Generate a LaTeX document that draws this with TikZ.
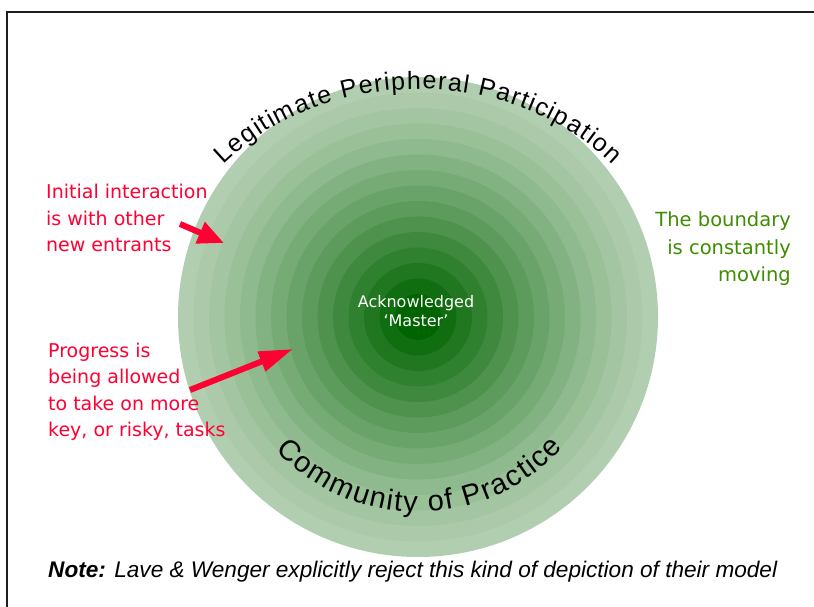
\documentclass[tikz,border=0pt]{standalone}
\usepackage{fontspec}
\setmainfont{Liberation Sans}
\newfontfamily\labelfont{DejaVu Sans}
\usetikzlibrary{arrows.meta,decorations.text}

\definecolor{rimgreen}{RGB}{178,206,176}
\definecolor{coregreen}{RGB}{0,100,0}
\definecolor{notered}{RGB}{255,0,51}
\definecolor{noteolive}{RGB}{62,140,0}
\definecolor{framegray}{RGB}{30,30,30}

\begin{document}
\begin{tikzpicture}[x=1pt,y=1pt,
    redtext/.style={font=\labelfont\fontsize{19}{26.5}\selectfont, text=notered, align=left, inner sep=0pt, anchor=base west},
    olivetext/.style={font=\labelfont\fontsize{19.5}{27.5}\selectfont, text=noteolive, align=right, inner sep=0pt, anchor=base east},
    mastertext/.style={font=\labelfont\fontsize{16}{19}\selectfont, text=white, align=center, inner sep=0pt, anchor=base},
    redarrow/.style={notered, line width=6pt}]
    \useasboundingbox (0,0) rectangle (814,607);
    \clip (0,0) rectangle (814,607);

    % frame
    \draw[line width=2pt, framegray] (7,-10) -- (7,595) -- (830,595);

    % rings
    \coordinate (hub) at (418,290);
    \foreach \i in {0,...,14}{
        \pgfmathsetmacro\ringpct{100*(\i/14)^1.3}
        \fill[coregreen!\ringpct!rimgreen] (hub) circle[radius=240-15.5*\i];
    }

    \node[mastertext] (master) at (416,280) {Acknowledged\\‘Master’};

    % text round the circle
    \path[decorate, decoration={text along path, text align=fit to path, text format delimiters={|}{|},
        text={|\fontsize{25}{25}\selectfont|Legitimate Peripheral Participation}}]
        (hub) ++(138:262 and 228) arc[start angle=138, end angle=42, x radius=262, y radius=228];
    \path[decorate, decoration={text along path, text align=fit to path, text format delimiters={|}{|},
        text={|\fontsize{29}{29}\selectfont|Community of Practice}}]
        (hub) ++(223:195) arc[start angle=223, end angle=318, radius=195];

    % notes
    \node[redtext] (initial) at (46,355) {Initial interaction\\is with other\\new entrants};
    \node[redtext] (progress) at (48,170) {Progress is\\being allowed\\to take on more\\key, or risky, tasks};
    \node[olivetext] (boundary) at (791,325) {The boundary\\is constantly\\moving};

    \coordinate (tailA) at (180,383);
    \coordinate (tipA) at (224,364);
    \coordinate (tailB) at (190,217);
    \coordinate (tipB) at (293,258);
    \draw[redarrow, -{Triangle[length=26pt,width=22pt]}] (tailA) -- (tipA);
    \draw[redarrow, -{Triangle[length=34pt,width=20pt]}] (tailB) -- (tipB);

    \node[anchor=base west, inner sep=0pt, font=\fontsize{22.6}{22.6}\selectfont\itshape] (note) at (48,29)
        {\textbf{Note:} Lave \& Wenger explicitly reject this kind of depiction of their model};
\end{tikzpicture}
\end{document}
